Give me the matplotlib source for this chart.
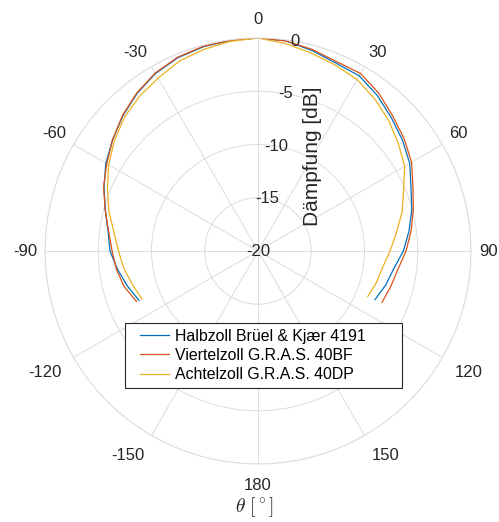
import numpy as np
import matplotlib
matplotlib.use("Agg")
import matplotlib.pyplot as plt
from matplotlib.patches import Rectangle

plt.rcParams['font.family'] = ['Liberation Sans', 'DejaVu Sans']
plt.rcParams['mathtext.fontset'] = 'cm'

# angles in degrees (clockwise from top)
angles_deg = [-112.5, -105, -97.5, -90, -82.5, -75, -67.5, -60, -52.5, -45, -37.5,
              -30, -22.5, -15, -7.5, 0, 7.5, 15, 22.5, 30, 37.5, 45, 52.5, 60,
              67.5, 75, 82.5, 90, 97.5, 105, 112.5]

halbzoll = [-7.9, -7.3, -6.7, -6.1, -5.8, -5.15, -4.35, -3.5, -2.8, -2.05, -1.35,
            -0.75, -0.35, -0.15, -0.05, 0.0, -0.1, -0.5, -0.9, -1.0, -1.6, -2.3,
            -2.9, -3.55, -4.45, -5.05, -5.7, -6.35, -7.15, -7.6, -8.1]
viertelzoll = [-7.65, -7.0, -6.6, -6.3, -5.85, -5.15, -4.3, -3.6, -2.8, -2.0, -1.3,
               -0.7, -0.3, -0.1, -0.05, 0.0, -0.1, -0.4, -0.75, -0.75, -1.35, -2.1,
               -2.7, -3.35, -4.25, -4.9, -5.5, -6.1, -6.75, -7.1, -7.4]
achtelzoll = [-8.2, -7.8, -7.3, -6.9, -6.35, -5.5, -4.7, -3.8, -3.0, -2.25, -1.7,
              -1.25, -0.7, -0.4, -0.15, 0.0, -0.35, -0.75, -1.1, -1.4, -2.0, -2.65,
              -3.4, -4.1, -5.2, -6.0, -6.9, -7.6, -8.2, -8.5, -8.85]

series_labels = ['Halbzoll Brüel & Kjær 4191', 'Viertelzoll G.R.A.S. 40BF',
                 'Achtelzoll G.R.A.S. 40DP']
series_colors = ['#0072BD', '#D95319', '#EDB120']

theta_ticks = [0, 30, 60, 90, 120, 150, 180, 210, 240, 270, 300, 330]
theta_ticklabels = ['0', '30', '60', '90', '120', '150', '180', '-150', '-120',
                    '-90', '-60', '-30']
r_ticks = [-20, -15, -10, -5, 0]
r_ticklabels = ['-20', '-15', '-10', '-5', '0']

W, H = 499, 522
fig = plt.figure(figsize=(W / 100, H / 100), dpi=100)
ax = fig.add_axes([0.0902, 0.1111, 0.8537, 0.8161], projection='polar')
ax.set_theta_zero_location('N')
ax.set_theta_direction(-1)

th = np.deg2rad(angles_deg)
for vals, lab, col in zip([halbzoll, viertelzoll, achtelzoll], series_labels, series_colors):
    ax.plot(th, vals, color=col, lw=0.9, label=lab)

ax.set_ylim(-20, 0)
ax.set_yticks(r_ticks)
ax.set_yticklabels([])
ax.set_xticks(np.deg2rad(theta_ticks))
ax.set_xticklabels([])
ax.grid(True, color='#dcdcdc', lw=0.7)
ax.spines['polar'].set_color('#dcdcdc')
ax.spines['polar'].set_linewidth(0.7)

# theta labels placed MATLAB-like (nearest corner of text at fixed gap)
for tdeg, tl in zip(theta_ticks, theta_ticklabels):
    a = np.deg2rad(tdeg)
    s, c = np.sin(a), np.cos(a)
    ha = 'left' if s > 0.01 else ('right' if s < -0.01 else 'center')
    va = 'bottom' if c > 0.01 else ('top' if c < -0.01 else 'center')
    gap = (11 if c > 0.99 else 8) if c > -0.01 else 14
    ax.annotate(tl, xy=(a, 0), xycoords='data', xytext=(gap * s, gap * c),
                textcoords='offset pixels', ha=ha, va=va, fontsize=12,
                color='#262626', annotation_clip=False)

for rv, rl in zip(r_ticks, r_ticklabels):
    ax.text(np.deg2rad(10), rv, rl, ha='center', va='center', fontsize=12,
            color='#262626', zorder=5)

fig.text(313 / W, 1 - 156 / H, 'Dämpfung [dB]', rotation=90, ha='center',
         va='center', fontsize=15, color='#262626')
fig.text(255 / W, 1 - 507 / H, r'$\theta\ [{}^\circ]$', ha='center', va='center',
         fontsize=14, color='#262626')

# legend box (MATLAB style, extra right padding)
box = Rectangle((125 / W, 1 - 388 / H), 277.3 / W, 65.3 / H, transform=fig.transFigure,
                facecolor='white', edgecolor='#262626', lw=0.8, zorder=4.5,
                clip_on=False)
ax.add_patch(box)
leg = ax.legend(loc='center left', bbox_to_anchor=(140 / W, 1 - 355.5 / H),
                bbox_transform=fig.transFigure, fontsize=11.4, frameon=False,
                handlelength=1.8, handletextpad=0.38, borderpad=0,
                labelspacing=0.26, borderaxespad=0)
leg.set_zorder(5)

fig.savefig('out.png', dpi=100)
